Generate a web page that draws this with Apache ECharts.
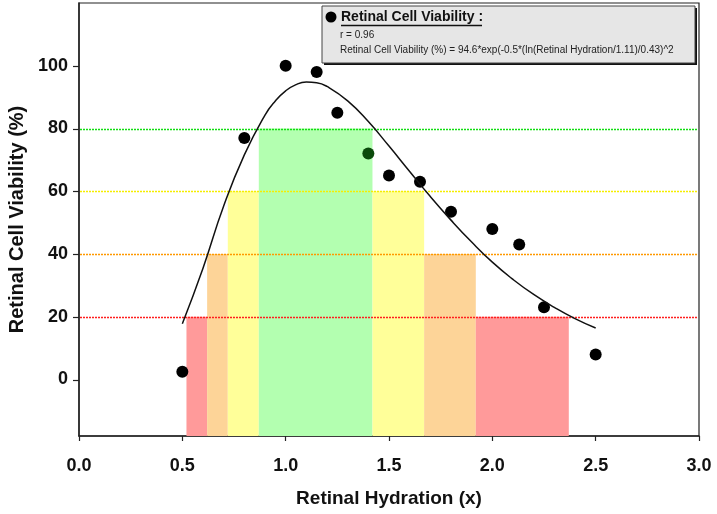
<!DOCTYPE html>
<html>
<head>
<meta charset="utf-8">
<script src="https://cdn.jsdelivr.net/npm/echarts@6/dist/echarts.min.js"></script>
<style>html,body{margin:0;padding:0;background:#fff}#c{width:717px;height:514px}</style>
</head>
<body>
<div id="c"></div>
<script>
// ---- data ----
var xTicks = [0, 0.5, 1.0, 1.5, 2.0, 2.5, 3.0];
var yTicks = [0, 20, 40, 60, 80, 100];
var scatterX = [0.5, 0.8, 1.0, 1.15, 1.25, 1.4, 1.5, 1.65, 1.8, 2.0, 2.13, 2.25, 2.5];
var scatterY = [2.5, 77, 100, 98, 85, 72, 65, 63, 53.5, 48, 43, 23, 8];
var curveX = [0.5, 0.6, 0.7, 0.8, 0.9, 0.95, 1.0, 1.05, 1.1, 1.15, 1.2, 1.3, 1.4, 1.5, 1.6, 1.7, 1.8, 1.9, 2.0, 2.1, 2.2, 2.3, 2.4, 2.5];
var curveY = [17.8, 35.5, 55.3, 71.6, 84.3, 88.8, 92, 94, 94.8, 94.6, 93.4, 88.8, 82.2, 74.4, 66.3, 58.3, 50.8, 43.8, 37.4, 31.9, 27.1, 23, 19.4, 16.4];
var bandStart = [0.52, 0.62, 0.72, 0.87, 1.42, 1.67, 1.92];
var bandEnd   = [0.62, 0.72, 0.87, 1.42, 1.67, 1.92, 2.37];
var bandTop   = [20, 40, 60, 80, 60, 40, 20];
var thresholds = [80, 60, 40, 20];
var seriesName = 'Retinal Cell Viability';
var statLine = 'r = 0.96';
var eqLine = 'Retinal Cell Viability (%) = 94.6*exp(-0.5*(ln(Retinal Hydration/1.11)/0.43)^2';

// ---- styles ----
var levelColor = {20: '#ff9a9a', 40: '#fdd498', 60: '#ffff99', 80: '#b3ffb0'};
var lineColor = {80: '#11dd11', 60: '#f5ee00', 40: '#ff9900', 20: '#ff1f1f'};
var xMin = 0, xMax = 3, yMin = -18, yMax = 120;

var chart = echarts.init(document.getElementById('c'), null, {renderer: 'canvas'});

var bandData = bandStart.map(function (s, i) { return [s, bandEnd[i], bandTop[i]]; });
var curveData = curveX.map(function (x, i) { return [x, curveY[i]]; });
var scatterData = scatterX.map(function (x, i) {
  var item = {value: [x, scatterY[i]]};
  // point lying inside the green band appears tinted dark green
  if (x > 0.87 && x < 1.42 && scatterY[i] < 80) item.itemStyle = {color: '#0b4a0b'};
  return item;
});

var font = '"Liberation Sans", Arial, Helvetica, sans-serif';

chart.setOption({
  animation: false,
  grid: {left: 79, right: 18, top: 3, bottom: 78, outerBoundsMode: 'none', containLabel: false,
    show: true, borderColor: '#222', borderWidth: 1.2, backgroundColor: 'transparent'},
  xAxis: {
    type: 'value', min: xMin, max: xMax, interval: 0.5,
    name: 'Retinal Hydration (x)', nameLocation: 'middle', nameGap: 53,
    nameTextStyle: {fontFamily: font, fontWeight: 'bold', fontSize: 19, color: '#111'},
    axisLine: {show: true, onZero: false, lineStyle: {color: '#222', width: 1.5}},
    axisTick: {show: true, length: 5, lineStyle: {color: '#222', width: 1.2}},
    axisLabel: {fontFamily: font, fontWeight: 'bold', fontSize: 18, color: '#111', margin: 21,
      formatter: function (v) { return v.toFixed(1); }},
    splitLine: {show: false}
  },
  yAxis: {
    type: 'value', min: yMin, max: yMax,
    name: 'Retinal Cell Viability (%)', nameLocation: 'middle', nameGap: 52,
    nameTextStyle: {fontFamily: font, fontWeight: 'bold', fontSize: 20, color: '#111'},
    axisLine: {show: true, onZero: false, lineStyle: {color: '#222', width: 1.5}},
    axisTick: {show: false},
    axisLabel: {fontFamily: font, fontWeight: 'bold', fontSize: 18, color: '#111', margin: 11, customValues: yTicks},
    splitLine: {show: false}
  },
  series: [
    {
      type: 'custom', z: 1, silent: true,
      data: bandData,
      renderItem: function (params, api) {
        var p0 = api.coord([api.value(0), api.value(2)]);
        var p1 = api.coord([api.value(1), yMin]);
        return {type: 'rect', shape: {x: p0[0], y: p0[1], width: p1[0] - p0[0], height: p1[1] - p0[1]},
          style: {fill: levelColor[api.value(2)]}};
      }
    },
    {
      type: 'custom', z: 3, silent: true,
      data: thresholds,
      renderItem: function (params, api) {
        var t = api.value(0);
        var a = api.coord([xMin, t]);
        var b = api.coord([xMax, t]);
        var y = Math.round(a[1]) + 0.5;
        return {type: 'line', shape: {x1: a[0] + 1, y1: y, x2: b[0] - 1, y2: y},
          style: {stroke: lineColor[t], lineWidth: 1.4, lineDash: [2, 1]}};
      }
    },
    {
      // y-axis ticks (outside, to the left of the axis line)
      type: 'custom', z: 5, silent: true, clip: false,
      data: yTicks,
      renderItem: function (params, api) {
        var p = api.coord([xMin, api.value(0)]);
        var y = Math.round(p[1]) + 0.5;
        return {type: 'line', shape: {x1: p[0] - 6, y1: y, x2: p[0], y2: y},
          style: {stroke: '#222', lineWidth: 1.2}};
      }
    },
    {
      type: 'line', z: 4, data: curveData, smooth: 0.5, symbol: 'none', silent: true,
      lineStyle: {color: '#111', width: 1.5}
    },
    {
      type: 'scatter', z: 2, name: seriesName, data: scatterData, symbolSize: 12,
      itemStyle: {color: '#000', opacity: 1}
    }
  ],
  graphic: [
    {type: 'rect', z: 100, shape: {x: 324, y: 8, width: 373, height: 57}, style: {fill: '#111'}},
    {type: 'rect', z: 101, shape: {x: 322, y: 6, width: 373, height: 57}, style: {fill: '#e6e6e6', stroke: '#444', lineWidth: 1}},
    {type: 'circle', z: 102, shape: {cx: 331, cy: 17, r: 5.5}, style: {fill: '#000'}},
    {type: 'text', z: 102, x: 341, y: 17, style: {text: seriesName + ' :', font: 'bold 14px ' + font, fill: '#111', verticalAlign: 'middle'}},
    {type: 'line', z: 102, shape: {x1: 341, y1: 25.5, x2: 482, y2: 25.5}, style: {stroke: '#111', lineWidth: 1.3}},
    {type: 'text', z: 102, x: 340, y: 35, style: {text: statLine, font: '10px ' + font, fill: '#222', verticalAlign: 'middle'}},
    {type: 'text', z: 102, x: 340, y: 50, style: {text: eqLine, font: '10px ' + font, fill: '#222', verticalAlign: 'middle'}}
  ]
});
</script>
</body>
</html>
